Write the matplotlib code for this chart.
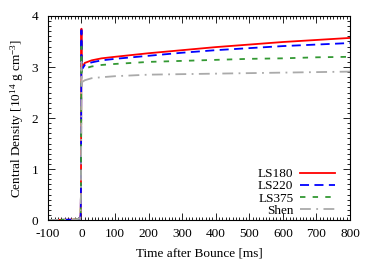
import matplotlib
matplotlib.use("Agg")
import matplotlib.pyplot as plt
from matplotlib.ticker import MultipleLocator

plt.rcParams['font.family'] = ['Liberation Serif', 'DejaVu Serif']
plt.rcParams['mathtext.fontset'] = 'custom'
plt.rcParams['mathtext.rm'] = 'Liberation Serif'
plt.rcParams['mathtext.it'] = 'Liberation Serif:italic'
plt.rcParams['font.size'] = 9.5
plt.rcParams['axes.unicode_minus'] = False

# time after bounce [ms]
t = [-100, -20, -4, -2.5, -1.5, 0, 0.5, 1, 3, 10, 30, 60, 100, 200, 300, 400, 500, 600, 700, 800]

# central density [1e14 g/cm^3]
ls180 = [0.0, 0.01, 0.03, 0.1, 0.5, 3.75, 3.0, 3.05, 3.0, 3.08, 3.13, 3.17, 3.20, 3.27, 3.33, 3.39, 3.44, 3.49, 3.53, 3.57]
ls220 = [0.0, 0.01, 0.03, 0.1, 0.5, 3.72, 2.95, 3.00, 2.97, 3.04, 3.09, 3.13, 3.16, 3.22, 3.28, 3.33, 3.37, 3.41, 3.44, 3.47]
ls375 = [0.0, 0.01, 0.03, 0.1, 0.5, 3.40, 2.90, 2.94, 2.92, 2.97, 3.01, 3.04, 3.06, 3.10, 3.12, 3.14, 3.16, 3.17, 3.19, 3.20]
shen = [0.0, 0.01, 0.03, 0.1, 0.5, 3.10, 2.70, 2.72, 2.71, 2.74, 2.78, 2.80, 2.82, 2.85, 2.86, 2.87, 2.88, 2.89, 2.90, 2.91]

fig = plt.figure(figsize=(3.74, 2.62), dpi=100)
ax = fig.add_axes([0.128, 0.160, 0.808, 0.779])

ax.plot(t, ls180, color='#ff0000', lw=1.3, label='LS180')
ax.plot(t, ls220, color='#0000ff', lw=1.3, dashes=(5, 3), label='LS220')
ax.plot(t, ls375, color='#339933', lw=1.3, dashes=(3, 4), label='LS375')
ax.plot(t, shen, color='#aaaaaa', lw=1.3, dashes=(6, 3, 1, 3), label='Shen')

ax.set_xlim(-100, 800)
ax.set_ylim(0, 4)
ax.xaxis.set_major_locator(MultipleLocator(100))
ax.xaxis.set_minor_locator(MultipleLocator(10))
ax.yaxis.set_major_locator(MultipleLocator(1))
ax.yaxis.set_minor_locator(MultipleLocator(0.1))
ax.tick_params(which='both', direction='in', top=True, right=True, width=0.6)
ax.tick_params(which='major', length=5)
ax.tick_params(which='minor', length=2.5)
ax.tick_params(axis='x', which='major', pad=6)
ax.tick_params(axis='y', which='major', pad=7)
for s in ax.spines.values():
    s.set_linewidth(0.8)

ax.set_xlabel("Time after Bounce [ms]", labelpad=5)
ax.set_ylabel("Central Density [10$^{14}$ g cm$^{-3}$]")

ax.legend(loc='lower right', bbox_to_anchor=(0.967, -0.01), frameon=False,
          markerfirst=False, handlelength=2.65, labelspacing=0.0,
          borderaxespad=0.0, handletextpad=0.5)

fig.savefig("out.png", dpi=100)
